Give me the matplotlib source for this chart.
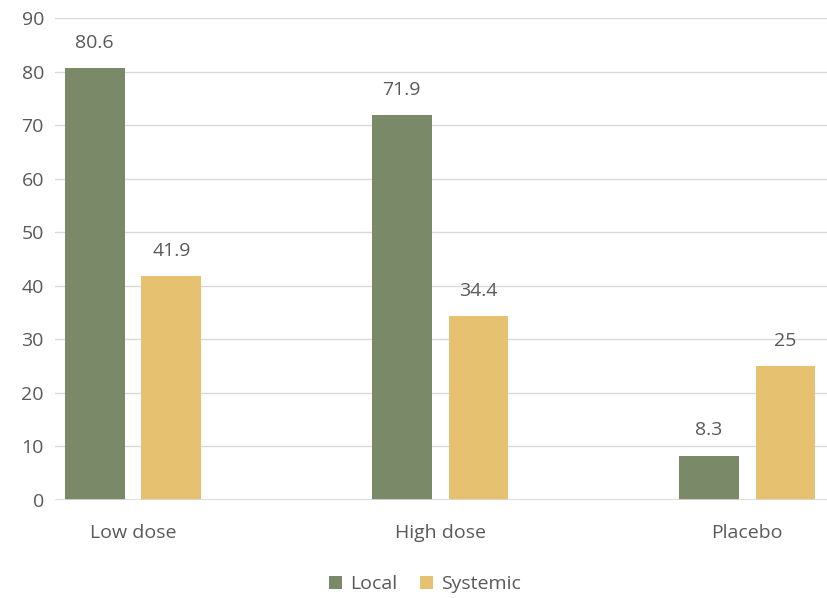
import numpy as np
import matplotlib.pyplot as plt

categories = ['Low dose', 'High dose', 'Placebo']
local = [80.6, 71.9, 8.3]
systemic = [41.9, 34.4, 25]
series_names = ['Local', 'Systemic']

plt.rcParams['font.family'] = ['Open Sans', 'DejaVu Sans']
txt = '#595959'

fig = plt.figure(figsize=(8.27, 5.98), dpi=100)
ax = fig.add_axes([55 / 827, 1 - 500 / 598, (827 - 55) / 827, (500 - 18) / 598])

x = np.arange(len(categories))
w = 0.195
b1 = ax.bar(x - 0.125, local, w, color='#7a8a68', label=series_names[0], zorder=3)
b2 = ax.bar(x + 0.125, systemic, w, color='#e5c170', label=series_names[1], zorder=3)

for bars, vals in ((b1, local), (b2, systemic)):
    for r, v in zip(bars, vals):
        ax.text(r.get_x() + r.get_width() / 2, v + 3.0, '%g' % v,
                ha='center', va='bottom', fontsize=14, color=txt)

ax.set_xlim(-0.254, 2.26)
ax.set_ylim(0, 90)
ax.set_yticks(range(0, 91, 10))
ax.set_xticks(x)
ax.set_xticklabels(categories)
ax.tick_params(axis='both', length=0, labelsize=14, colors=txt)
ax.tick_params(axis='x', pad=17)
ax.tick_params(axis='y', pad=8)
ax.grid(axis='y', color='#d9d9d9', linewidth=1, zorder=0)
for s in ax.spines.values():
    s.set_visible(False)
ax.axhline(0, color='#d9d9d9', linewidth=1.2, zorder=4)

leg = fig.legend(loc='center', bbox_to_anchor=(425 / 827, 1 - 584 / 598), ncol=2,
                 frameon=False, fontsize=14, handlelength=0.65, handleheight=0.65,
                 handletextpad=0.4, columnspacing=1.2)
for t in leg.get_texts():
    t.set_color(txt)

fig.savefig('out.png', dpi=100)
